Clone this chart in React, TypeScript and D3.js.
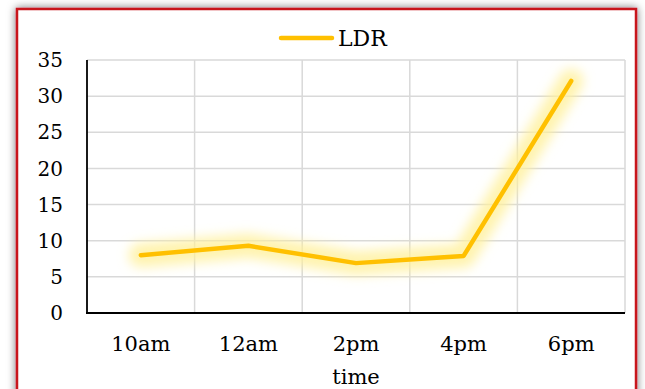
import React from "react";
import * as d3 from "d3";

// LDR readings over the day
const times = ["10am", "12am", "2pm", "4pm", "6pm"];
const ldr = [8.0, 9.3, 6.9, 7.9, 32.1];
const yTicks = [0, 5, 10, 15, 20, 25, 30, 35];

const W = 645;
const H = 389;
const plot = { left: 87, right: 625, top: 60, bottom: 313 };
const FONT = "'DejaVu Serif', serif";

export default function App() {
  const x = d3
    .scaleBand<string>()
    .domain(times)
    .range([plot.left, plot.right])
    .paddingInner(0)
    .paddingOuter(0);
  const y = d3.scaleLinear().domain([0, 35]).range([plot.bottom, plot.top]);

  const pts: [number, number][] = times.map((t, i) => [
    (x(t) as number) + x.bandwidth() / 2,
    y(ldr[i]),
  ]);
  const line = d3.line<[number, number]>()(pts) as string;

  const boundaries = times.map((t) => (x(t) as number) + x.bandwidth());

  return (
    <svg
      width={W}
      height={H}
      style={{ position: "absolute", left: 0, top: 0, display: "block" }}
    >
      <defs>
        <filter id="frameShadow" x="-5%" y="-5%" width="110%" height="115%">
          <feDropShadow dx="0" dy="0" stdDeviation="4.5" floodColor="#000" floodOpacity="0.55" />
        </filter>
        <filter id="glow" x="-20%" y="-20%" width="140%" height="140%">
          <feGaussianBlur stdDeviation="6" />
        </filter>
      </defs>

      <rect width={W} height={H} fill="#fff" />

      {/* chart frame */}
      <rect
        x={17}
        y={9}
        width={619}
        height={H + 20}
        fill="#fff"
        stroke="#c8141c"
        strokeWidth={2.5}
        filter="url(#frameShadow)"
      />

      {/* gridlines */}
      {yTicks.map((v) => (
        <line
          key={"h" + v}
          x1={plot.left}
          x2={plot.right}
          y1={y(v)}
          y2={y(v)}
          stroke="#d9d9d9"
          strokeWidth={1.5}
        />
      ))}
      {boundaries.map((bx, i) => (
        <line
          key={"v" + i}
          x1={bx}
          x2={bx}
          y1={plot.top}
          y2={plot.bottom}
          stroke="#d9d9d9"
          strokeWidth={1.5}
        />
      ))}

      {/* axes */}
      <line x1={plot.left} x2={plot.left} y1={plot.top} y2={plot.bottom} stroke="#000" strokeWidth={1.8} />
      <line x1={plot.left - 1} x2={plot.right} y1={plot.bottom} y2={plot.bottom} stroke="#000" strokeWidth={1.8} />

      {/* y tick labels */}
      {yTicks.map((v) => (
        <text
          key={"yt" + v}
          x={63}
          y={y(v)}
          dy="0.36em"
          textAnchor="end"
          fontFamily={FONT}
          fontSize={20}
          fill="#000"
        >
          {v}
        </text>
      ))}

      {/* x tick labels */}
      {times.map((t) => (
        <text
          key={"xt" + t}
          x={(x(t) as number) + x.bandwidth() / 2}
          y={351}
          textAnchor="middle"
          fontFamily={FONT}
          fontSize={21}
          fill="#000"
        >
          {t}
        </text>
      ))}

      <text
        x={(plot.left + plot.right) / 2}
        y={384}
        textAnchor="middle"
        fontFamily={FONT}
        fontSize={21}
        fill="#000"
      >
        time
      </text>

      {/* series glow + line */}
      <path
        d={line}
        fill="none"
        stroke="#fff09a"
        strokeOpacity={0.8}
        strokeWidth={24}
        strokeLinejoin="round"
        strokeLinecap="round"
        filter="url(#glow)"
      />
      <path
        d={line}
        fill="none"
        stroke="#ffc000"
        strokeWidth={4.5}
        strokeLinejoin="round"
        strokeLinecap="round"
      />

      {/* legend */}
      <line x1={281} x2={332} y1={38} y2={38} stroke="#ffc000" strokeWidth={4.5} strokeLinecap="round" />
      <text x={338} y={46} fontFamily={FONT} fontSize={22} fill="#000">
        LDR
      </text>
    </svg>
  );
}
